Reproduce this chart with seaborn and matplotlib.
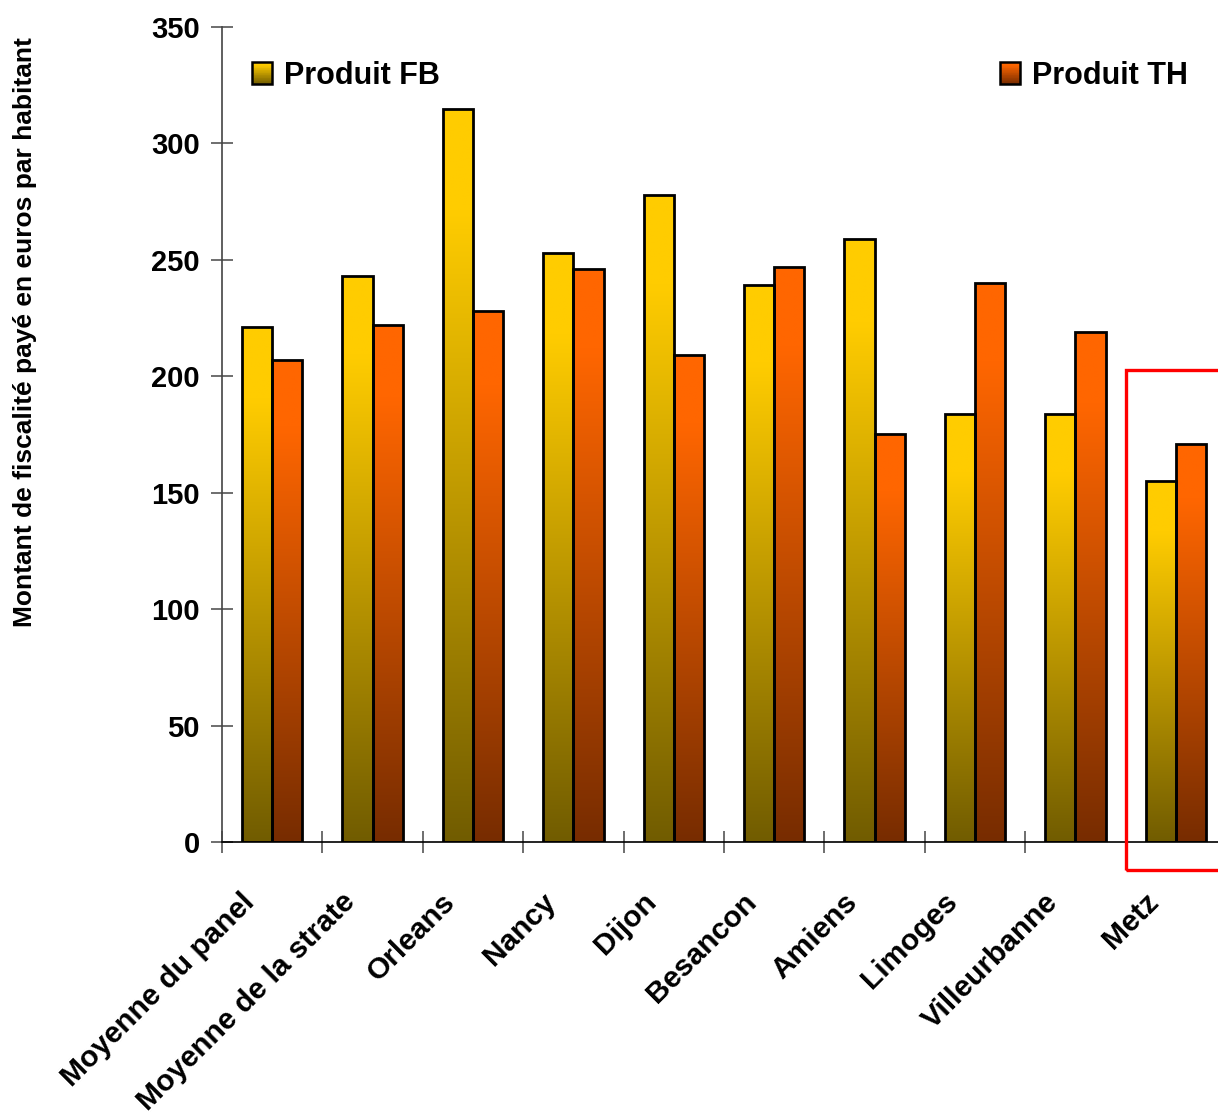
import numpy as np
import pandas as pd
import matplotlib
matplotlib.use("Agg")
import matplotlib.pyplot as plt
import seaborn as sns
from matplotlib.colors import to_rgb
from matplotlib.patches import Rectangle
from matplotlib.legend_handler import HandlerBase
from matplotlib.ticker import FixedLocator
from matplotlib.transforms import ScaledTranslation

# Tax revenue per inhabitant (euros)
communes = ["Moyenne du panel", "Moyenne de la strate", "Orleans", "Nancy", "Dijon",
            "Besancon", "Amiens", "Limoges", "Villeurbanne", "Metz"]
produit_fb = [221, 243, 315, 253, 278, 239, 259, 184, 184, 155]
produit_th = [207, 222, 228, 246, 209, 247, 175, 240, 219, 171]
series = ["Produit FB", "Produit TH"]
y_ticks = [0, 50, 100, 150, 200, 250, 300, 350]
y_title = "Montant de fiscalité payé en euros par habitant"
highlight = "Metz"

# top / bottom colours of each bar gradient
ramps = {"Produit FB": ("#FFCC00", "#715C00"),
         "Produit TH": ("#FF6600", "#772C00")}

sns.set_theme(style="white")
plt.rcParams["font.family"] = ["Liberation Sans", "DejaVu Sans"]
plt.rcParams["text.color"] = "black"

df = pd.DataFrame({
    "Commune": communes * 2,
    "Serie": [series[0]] * len(communes) + [series[1]] * len(communes),
    "Montant": produit_fb + produit_th,
})

W, H = 1218, 1116
fig = plt.figure(figsize=(W / 100, H / 100), dpi=100)
ax = fig.add_axes([222 / W, 274 / H, 1004 / W, 815 / H])

sns.barplot(data=df, x="Commune", y="Montant", hue="Serie", order=communes,
            hue_order=series, width=0.6, palette=[ramps[s][0] for s in series],
            saturation=1, edgecolor="black", linewidth=2.0, errorbar=None,
            legend=False, ax=ax)


def ramp_colors(top, bottom, n=256, flat=0.14):
    t = np.linspace(0, 1, n)
    f = np.clip((t - flat) / (1 - flat), 0, 1)[:, None]
    return (1 - f) * np.array(to_rgb(top)) + f * np.array(to_rgb(bottom))


# vertical gradient fill clipped to each bar
for container, name in zip(ax.containers, series):
    img = ramp_colors(*ramps[name])[:, None, :]
    for bar in container:
        x0, w, h = bar.get_x(), bar.get_width(), bar.get_height()
        im = ax.imshow(img, extent=[x0, x0 + w, 0, h], origin="upper",
                       aspect="auto", interpolation="bilinear",
                       zorder=bar.get_zorder() - 0.1)
        im.set_clip_path(bar)
        bar.set_facecolor("none")

ax.set_xlim(-0.5, len(communes) - 0.5)
ax.set_ylim(0, 350)
ax.set_xlabel("")
ax.set_ylabel("")

for side in ("top", "right"):
    ax.spines[side].set_visible(False)
ax.spines["left"].set_color("#444444")
ax.spines["left"].set_linewidth(1.2)
ax.spines["bottom"].set_color("black")
ax.spines["bottom"].set_linewidth(1.2)

# y axis
ax.set_yticks(y_ticks)
ax.set_yticklabels([str(v) for v in y_ticks], fontsize=21, fontweight="bold")
ax.tick_params(axis="y", which="major", direction="inout", length=16, width=1.2,
               color="#555555", labelcolor="black", pad=8, left=True)

# x axis: labels at centres, tick marks between categories
ax.set_xticks(range(len(communes)))
ax.xaxis.set_minor_locator(FixedLocator(np.arange(-0.5, len(communes), 1.0)))
ax.tick_params(axis="x", which="major", length=0, pad=40, bottom=True,
               labelcolor="black")
ax.tick_params(axis="x", which="minor", direction="inout", length=16, width=1.2,
               color="#555555", bottom=True)
shift = ScaledTranslation(-22 / 100, 0, fig.dpi_scale_trans)
ax.set_xticklabels(communes, fontsize=21.5, fontweight="bold", rotation=45,
                   ha="right", va="center", rotation_mode="anchor")
for lbl in ax.get_xticklabels():
    lbl.set_transform(lbl.get_transform() + shift)

fig.text(25 / W, 1 - 332 / H, y_title, rotation=90, ha="center", va="center",
         fontsize=19, fontweight="bold")


class GradientSwatch(HandlerBase):
    def __init__(self, top, bottom, steps=30):
        super().__init__()
        self.colors = ramp_colors(top, bottom, n=steps, flat=0.1)
        self.steps = steps

    def create_artists(self, legend, orig_handle, xdescent, ydescent, width,
                       height, fontsize, trans):
        x0, y0 = -xdescent, -ydescent
        arts = []
        for k, c in enumerate(self.colors):
            yk = y0 + height * (1 - (k + 1) / self.steps)
            arts.append(Rectangle((x0, yk), width, height / self.steps,
                                  facecolor=c, edgecolor="none", transform=trans))
        arts.append(Rectangle((x0, y0), width, height, facecolor="none",
                              edgecolor="black", linewidth=1.8, transform=trans))
        return arts


handles = [Rectangle((0, 0), 1, 1, label=s) for s in series]
legend_kw = dict(frameon=False, handlelength=0.66, handleheight=0.72,
                 handletextpad=0.4, borderpad=0, borderaxespad=0,
                 bbox_transform=fig.transFigure, prop={"weight": "bold", "size": 22})
leg1 = ax.legend(handles=[handles[0]], loc="center left",
                 bbox_to_anchor=(252 / W, 1 - 76 / H),
                 handler_map={handles[0]: GradientSwatch(*ramps[series[0]])},
                 **legend_kw)
ax.add_artist(leg1)
ax.legend(handles=[handles[1]], loc="center right",
          bbox_to_anchor=(1188 / W, 1 - 76 / H),
          handler_map={handles[1]: GradientSwatch(*ramps[series[1]])},
          **legend_kw)

# red frame around the highlighted commune
i = communes.index(highlight)
ax.add_patch(Rectangle((i - 0.5, -12), 1.2, 214.5, facecolor="none",
                       edgecolor="#FF0000", linewidth=2.4, clip_on=False,
                       zorder=5))

fig.savefig("out.png", dpi=100)
